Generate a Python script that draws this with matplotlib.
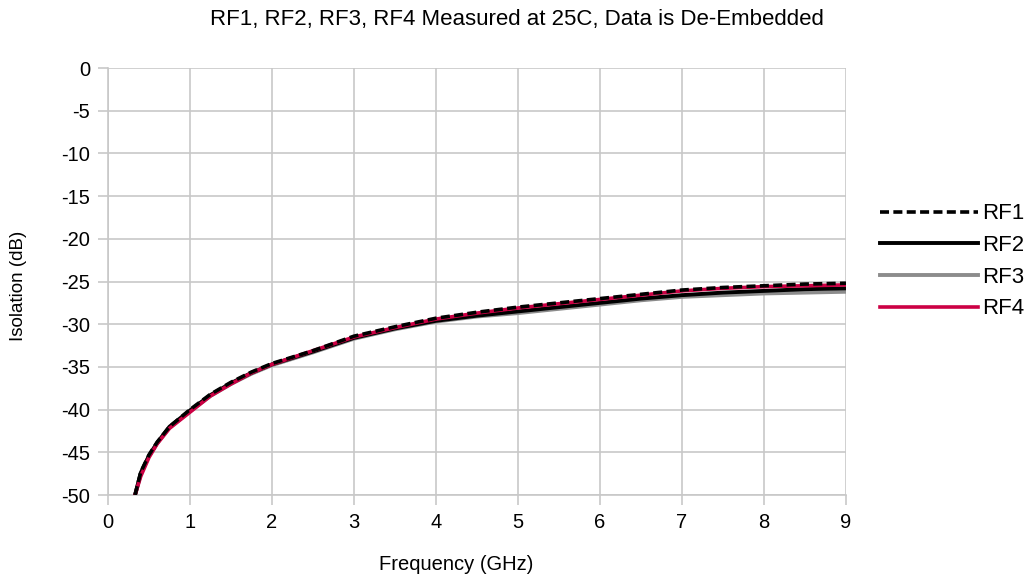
import matplotlib.pyplot as plt
import numpy as np

plt.rcParams['font.family'] = ['Liberation Sans', 'DejaVu Sans']
plt.rcParams['axes.unicode_minus'] = False

# frequency points (GHz)
freq = [0.33, 0.4, 0.5, 0.6, 0.75, 1.0, 1.25, 1.5, 1.75, 2.0, 2.5, 3.0,
        3.5, 4.0, 4.5, 5.0, 5.5, 6.0, 6.5, 7.0, 7.5, 8.0, 8.5, 9.0]

rf1 = [-50.0, -47.3, -45.3, -43.8, -42.0, -40.0, -38.2, -36.8, -35.6, -34.6, -33.1, -31.4,
       -30.3, -29.3, -28.6, -28.0, -27.5, -27.0, -26.5, -26.0, -25.7, -25.5, -25.3, -25.2]
rf2 = [-50.0, -47.4, -45.4, -43.9, -42.0, -40.1, -38.3, -36.9, -35.7, -34.7, -33.2, -31.6,
       -30.5, -29.6, -29.0, -28.5, -28.0, -27.5, -27.0, -26.6, -26.3, -26.1, -25.9, -25.8]
rf3 = [-50.0, -47.5, -45.4, -43.9, -42.1, -40.2, -38.4, -37.0, -35.8, -34.8, -33.3, -31.7,
       -30.6, -29.7, -29.1, -28.7, -28.2, -27.7, -27.2, -26.8, -26.6, -26.4, -26.3, -26.2]
rf4 = [-50.0, -47.8, -45.6, -44.0, -42.2, -40.3, -38.4, -37.0, -35.7, -34.7, -33.1, -31.5,
       -30.4, -29.4, -28.7, -28.1, -27.6, -27.1, -26.6, -26.1, -25.8, -25.6, -25.5, -25.4]

fig = plt.figure(figsize=(10.34, 5.82), dpi=100)
ax = fig.add_axes([108 / 1034, 87 / 582, 738 / 1034, 427 / 582])

ax.plot(freq, rf3, color='#8c8c8c', lw=2.8, label='RF3', zorder=2)
ax.plot(freq, rf2, color='black', lw=2.8, label='RF2', zorder=3)
ax.plot(freq, rf4, color='#cc0044', lw=2.6, label='RF4', zorder=4)
ax.plot(freq, rf1, color='black', lw=2.6, ls=(0, (2.5, 1.2)), label='RF1', zorder=5)

ax.set_xlim(0, 9)
ax.set_ylim(-50, 0)
ax.set_xticks(range(0, 10))
ax.set_yticks(range(-50, 1, 5))
ax.grid(True, color='#c8c8c8', lw=1.2)
ax.set_axisbelow(True)
for s in ['top', 'right']:
    ax.spines[s].set_visible(False)
for s in ['left', 'bottom']:
    ax.spines[s].set_color('#c8c8c8')
    ax.spines[s].set_linewidth(1.2)
ax.tick_params(colors='#c8c8c8', labelcolor='black', labelsize=14.5, length=7, width=1.2)
ax.tick_params(axis='y', pad=6)
ax.tick_params(axis='x', pad=6)

ax.set_xlabel('Frequency (GHz)', fontsize=14.5)
ax.xaxis.set_label_coords(0.4715, -0.1405)
ax.set_ylabel('Isolation (dB)', fontsize=13.5)
ax.yaxis.set_label_coords(-0.11, 0.49)
fig.text(0.5, 1 - 20 / 582, 'RF1, RF2, RF3, RF4 Measured at 25C, Data is De-Embedded',
         fontsize=16, ha='center', va='center')

h, l = ax.get_legend_handles_labels()
order = [3, 1, 0, 2]
ax.legend([h[i] for i in order], [l[i] for i in order], loc='center left',
          bbox_to_anchor=(1.046, 0.547), frameon=False, fontsize=16,
          borderaxespad=0, borderpad=0,
          handlelength=4.4, handletextpad=0.2, labelspacing=0.48)

fig.savefig('out.png', dpi=100)
